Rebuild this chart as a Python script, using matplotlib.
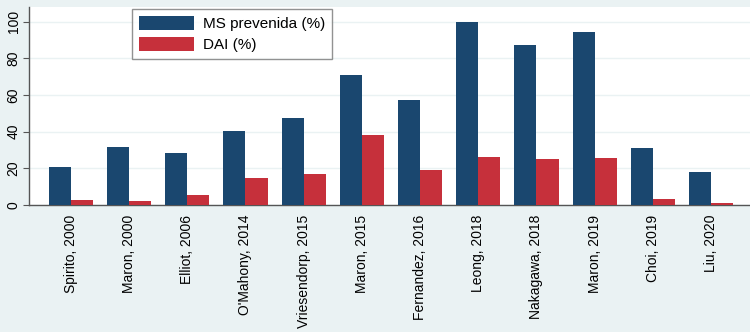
import numpy as np
import matplotlib
matplotlib.use("Agg")
import matplotlib.pyplot as plt

plt.rcParams["font.family"] = ["Liberation Sans", "DejaVu Sans"]

studies = [
    "Spirito, 2000", "Maron, 2000", "Elliot, 2006", "O'Mahony, 2014",
    "Vriesendorp, 2015", "Maron, 2015", "Fernandez, 2016", "Leong, 2018",
    "Nakagawa, 2018", "Maron, 2019", "Choi, 2019", "Liu, 2020",
]
ms_prevenida = [20.5, 31.7, 28.4, 40.4, 47.6, 70.9, 57.3, 100, 87.1, 94.5, 31.3, 17.8]
dai = [2.7, 2.2, 5.6, 14.9, 16.7, 38.2, 19.1, 26.0, 25.3, 25.4, 3.1, 1.1]

bg = "#EAF2F3"
navy = "#1A476F"
red = "#C6303B"

fig = plt.figure(figsize=(7.5, 3.32), dpi=100, facecolor=bg)
ax = fig.add_axes([29 / 750, 1 - 205 / 332, 1 - 29 / 750, 198 / 332])
ax.set_facecolor("white")

x = np.arange(len(studies))
w = 0.38
ax.bar(x - w / 2, ms_prevenida, w, color=navy, label="MS prevenida (%)", zorder=3)
ax.bar(x + w / 2, dai, w, color=red, label="DAI (%)", zorder=3)

ax.set_xlim(-0.72, len(studies) - 0.33)
ax.set_ylim(0, 108)
ax.set_yticks([0, 20, 40, 60, 80, 100])
ax.yaxis.grid(True, color=bg, linewidth=1.0, zorder=0)
ax.tick_params(axis="y", labelsize=10, length=4, color="#555555", labelrotation=90, pad=2)
for lab in ax.get_yticklabels():
    lab.set_va("center")
ax.set_xticks(x)
ax.set_xticklabels(studies, rotation=90, fontsize=10)
ax.tick_params(axis="x", length=0, pad=7)

for side in ["top", "right"]:
    ax.spines[side].set_visible(False)
for side in ["left", "bottom"]:
    ax.spines[side].set_color("#555555")
    ax.spines[side].set_linewidth(1.0)

leg = ax.legend(
    loc="upper left", bbox_to_anchor=((132 - 29) / 721, (205 - 9) / 198),
    fontsize=11, handlelength=3.6, handleheight=1.0, labelspacing=0.4,
    fancybox=False, frameon=True, borderpad=0.45, handletextpad=0.6,
    borderaxespad=0, edgecolor="#777777",
)
leg.get_frame().set_linewidth(1.0)

fig.savefig("out.png", dpi=100, facecolor=bg)
